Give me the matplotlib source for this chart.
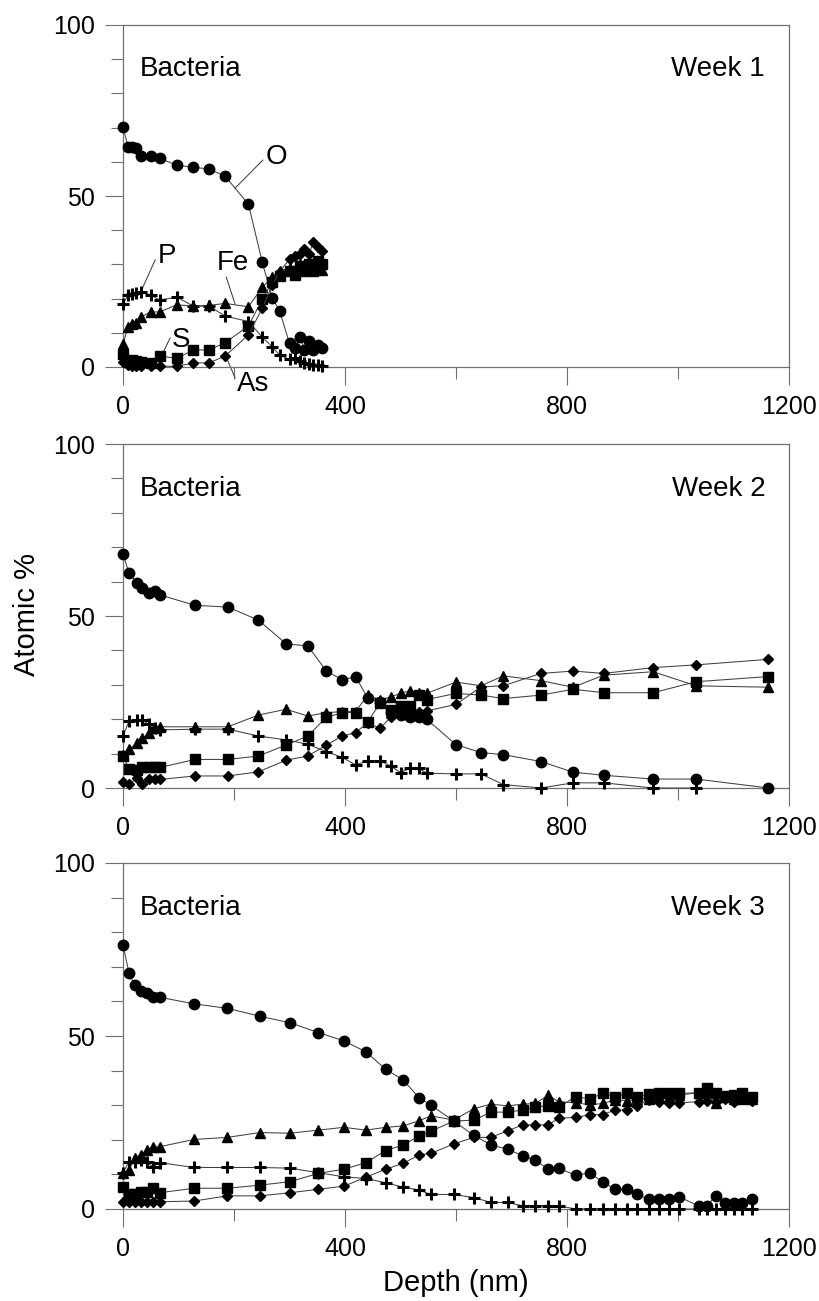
import matplotlib
matplotlib.use("Agg")
import matplotlib.pyplot as plt
from matplotlib.ticker import MultipleLocator

plt.rcParams['font.family'] = ['Liberation Sans', 'DejaVu Sans']

nan = float('nan')

# ---------------- Week 1 ----------------
depth_w1 = [0, 9, 17, 24, 33, 50, 66, 97, 127, 155, 184, 226, 251, 269, 282,
            300, 310, 319, 327, 335, 343, 351, 358]
O_w1 = [70.3, 64.4, 64.2, 63.9, 61.7, 61.7, 61.0, 59.0, 58.4, 57.9, 55.8, 47.6,
        30.6, 20.1, 16.5, 6.9, 5.5, 8.9, 5.0, 7.6, 5.1, 6.4, 5.5]
P_w1 = [18.4, 21.0, 21.2, 21.5, 22.0, 21.0, 19.6, 20.4, 17.8, 17.8, 14.9, 13.3,
        8.7, 5.9, 3.5, 2.2, 2.5, 1.8, 1.2, 1.0, 0.6, 0.5, 0.3]
Fe_w1 = [6.6, 11.8, 12.5, 13.0, 14.7, 16.1, 16.1, 18.2, 17.8, 18.0, 18.6, 17.6,
         23.3, 26.4, 28.0, 29.0, 28.5, 30.0, 28.8, 29.5, 28.0, 29.5, 28.5]
S_w1 = [3.8, 1.5, 2.0, 1.8, 1.5, 1.2, 3.2, 2.5, 5.0, 5.0, 7.1, 12.0,
        19.8, 24.9, 26.5, 28.0, 27.0, 29.5, 28.0, 30.0, 28.5, 31.0, 30.0]
As_w1 = [1.5, 0.5, 0.3, 0.3, 0.2, 0.2, 0.2, 0.2, 1.2, 1.2, 3.2, 9.4,
         17.2, 24.0, 27.9, 31.5, 32.5, 33.0, 34.5, 33.0, 36.5, 35.0, 34.0]

# ---------------- Week 2 ----------------
depth_w2 = [0, 11, 25, 35, 46, 57, 67, 130, 189, 244, 294, 333, 366, 395, 419,
            441, 463, 482, 500, 517, 533, 547, 600, 645, 685, 753, 811, 866,
            955, 1033, 1163]
O_w2 = [68.0, 62.4, 59.7, 58.0, 56.8, 57.2, 56.1, 53.1, 52.6, 48.8, 41.9, 41.3,
        34.1, 31.4, 32.4, 26.1, 25.1, 22.0, 21.2, 20.7, 20.7, 20.0, 12.6, 10.3,
        9.7, 7.7, 4.6, 3.7, 2.6, 2.6, 0.0]
P_w2 = [15.1, 19.5, 19.8, 19.8, 18.5, 17.5, 16.9, 17.1, 17.1, 15.1, 14.0, 12.7,
        10.6, 8.9, 6.7, 7.9, 7.9, 6.4, 4.5, 5.7, 5.7, 4.3, 4.1, 4.1,
        1.0, 0.0, 1.5, 1.5, 0.0, 0.0, nan]
Fe_w2 = [9.5, 11.2, 13.2, 14.4, 15.9, 17.3, 17.8, 17.8, 17.8, 21.2, 22.9, 20.9,
         21.9, 22.2, 22.2, 27.0, 25.6, 26.5, 27.5, 28.3, 27.5, 27.5, 30.8, 29.7,
         32.6, 31.2, 29.3, 32.8, 33.8, 29.7, 29.3]
S_w2 = [9.3, 5.4, 5.2, 6.0, 6.0, 6.2, 6.0, 8.3, 8.3, 9.3, 12.5, 15.1,
        20.5, 21.9, 21.9, 19.3, 24.6, 22.7, 23.8, 23.8, 27.0, 25.7, 27.5, 27.0,
        26.0, 27.0, 28.7, 27.7, 27.7, 30.9, 32.4]
As_w2 = [1.8, 1.2, 2.8, 1.2, 2.5, 2.5, 2.5, 3.5, 3.5, 4.7, 8.1, 9.3,
         12.4, 15.1, 16.1, 19.0, 17.3, 20.5, 21.9, 21.5, 22.0, 22.4, 24.3, 29.4,
         29.7, 33.3, 34.0, 33.3, 35.0, 35.8, 37.4]

# ---------------- Week 3 ----------------
depth_w3 = [0, 11, 21, 32, 43, 54, 66, 128, 188, 247, 301, 352, 398, 438, 473,
            505, 533, 555, 596, 632, 663, 693, 720, 743, 766, 785, 816, 841,
            864, 887, 908, 927, 947, 965, 983, 1001, 1037, 1052, 1068, 1084,
            1100, 1116, 1133]
O_w3 = [76.2, 68.1, 64.7, 63.1, 62.3, 61.4, 61.2, 59.3, 58.0, 55.7, 53.8, 51.0,
        48.6, 45.4, 40.4, 37.3, 32.2, 30.0, 25.4, 21.3, 18.5, 17.3, 15.4, 14.2,
        11.5, 11.8, 9.7, 10.5, 7.8, 5.7, 5.7, 4.3, 2.8, 2.8, 2.8, 3.6,
        0.9, 0.9, 3.8, 1.8, 1.8, 1.8, 2.8]
P_w3 = [10.5, 13.7, 13.7, 14.2, 13.5, 12.2, 13.4, 12.0, 12.0, 12.0, 11.8, 10.5,
        9.3, 8.8, 7.6, 6.3, 5.5, 4.2, 4.2, 3.3, 1.9, 1.9, 0.9, 0.9,
        0.9, 0.9, 0.0, 0.0, 0.0, 0.0, 0.0, 0.0, 0.0, 0.0, 0.0, 0.0,
        0.0, 0.0, 0.0, 0.0, 0.0, 0.0, 0.0]
Fe_w3 = [10.5, 11.3, 14.6, 15.6, 17.1, 18.0, 18.0, 20.1, 20.7, 22.1, 21.9, 22.8,
         23.6, 22.8, 23.6, 24.0, 25.5, 26.9, 25.7, 29.0, 30.3, 29.8, 30.3, 30.5,
         32.9, 31.0, 30.7, 30.1, 30.5, 31.5, 31.3, 31.7, 31.9, 32.3, 32.3, 32.9,
         33.6, 33.9, 30.7, 32.3, 31.9, 31.7, 31.7]
S_w3 = [6.5, 4.3, 4.3, 5.0, 5.0, 6.0, 4.7, 6.0, 6.0, 6.9, 7.9, 10.3,
        11.5, 13.4, 16.9, 18.5, 21.1, 22.5, 25.4, 25.7, 28.0, 28.0, 28.6, 29.4,
        29.9, 29.4, 32.5, 31.8, 33.4, 32.5, 33.4, 32.5, 33.1, 33.6, 33.4, 33.4,
        33.6, 35.1, 33.6, 32.7, 33.0, 33.6, 32.3]
As_w3 = [2.1, 2.1, 2.1, 2.1, 2.1, 2.1, 2.1, 2.3, 3.8, 3.8, 4.7, 5.7,
         6.6, 9.2, 11.5, 13.2, 15.6, 16.1, 18.8, 20.7, 20.7, 22.6, 24.3, 24.3,
         24.3, 26.2, 26.5, 27.2, 27.3, 28.6, 28.6, 29.8, 31.5, 31.0, 30.7, 30.7,
         31.0, 31.3, 31.0, 31.7, 31.0, 31.7, 31.3]

week_titles = ["Week 1", "Week 2", "Week 3"]
sample_label = "Bacteria"
x_ticks = [0, 400, 800, 1200]
y_ticks = [0, 50, 100]
x_label = "Depth (nm)"
y_label = "Atomic %"

panels = [
    (depth_w1, O_w1, P_w1, Fe_w1, S_w1, As_w1),
    (depth_w2, O_w2, P_w2, Fe_w2, S_w2, As_w2),
    (depth_w3, O_w3, P_w3, Fe_w3, S_w3, As_w3),
]

# element -> (marker, size, edge width)
styles = [
    ('o', 7.5, 1.0),   # O
    ('+', 8.5, 2.2),   # P
    ('^', 7.5, 1.0),   # Fe
    ('s', 6.8, 1.0),   # S
    ('D', 5.0, 1.0),   # As
]

W, H = 819, 1301
fig = plt.figure(figsize=(W / 100, H / 100), dpi=100)

left_px, right_px = 123, 789
panel_px = [(25, 367), (444, 788), (863, 1209)]

spine_col = '#707070'
line_col = '#404040'
for i, (top, bot) in enumerate(panel_px):
    ax = fig.add_axes([left_px / W, 1 - bot / H, (right_px - left_px) / W, (bot - top) / H])
    data = panels[i]
    xs = data[0]
    for k in range(5):
        m, ms, mew = styles[k]
        ax.plot(xs, data[k + 1], color=line_col, lw=0.75, marker=m, ms=ms,
                mfc='black', mec='black', mew=mew, clip_on=False, zorder=3)
    ax.set_xlim(0, 1200)
    ax.set_ylim(0, 100)
    ax.set_xticks(x_ticks)
    ax.set_yticks(y_ticks)
    ax.xaxis.set_minor_locator(MultipleLocator(200))
    ax.yaxis.set_minor_locator(MultipleLocator(10))
    ax.tick_params(which='major', direction='out', length=13, width=0.8,
                   color=spine_col, labelsize=18, pad=7)
    ax.tick_params(which='minor', direction='out', length=8.5, width=0.8,
                   color=spine_col)
    for sp in ax.spines.values():
        sp.set_color(spine_col)
        sp.set_linewidth(0.9)
    ax.text(31, 85, sample_label, fontsize=20, ha='left', va='baseline')
    ax.text(1157, 85, week_titles[i], fontsize=20, ha='right', va='baseline')

    if i == 0:
        lab_kw = dict(fontsize=20, ha='center', va='center', clip_on=False)
        line_kw = dict(color=line_col, lw=0.75, clip_on=False)
        ax.text(277, 61.4, "O", **lab_kw)
        ax.plot([252, 202], [60.5, 52.3], **line_kw)
        ax.text(79, 32.5, "P", **lab_kw)
        ax.plot([58, 32], [31.3, 22.0], **line_kw)
        ax.text(198, 30.4, "Fe", **lab_kw)
        ax.plot([186, 202], [26.3, 18.4], **line_kw)
        ax.text(104, 7.9, "S", **lab_kw)
        ax.plot([85, 70], [8.5, 3.5], **line_kw)
        ax.text(235, -5.0, "As", **lab_kw)
        ax.plot([186, 202], [2.9, -3.2], **line_kw)

fig.text(27 / W, 1 - 614 / H, y_label, rotation=90, fontsize=21, ha='center', va='center')
fig.text(456 / W, 1 - 1283 / H, x_label, fontsize=21, ha='center', va='center')

fig.savefig("out.png", dpi=100)
